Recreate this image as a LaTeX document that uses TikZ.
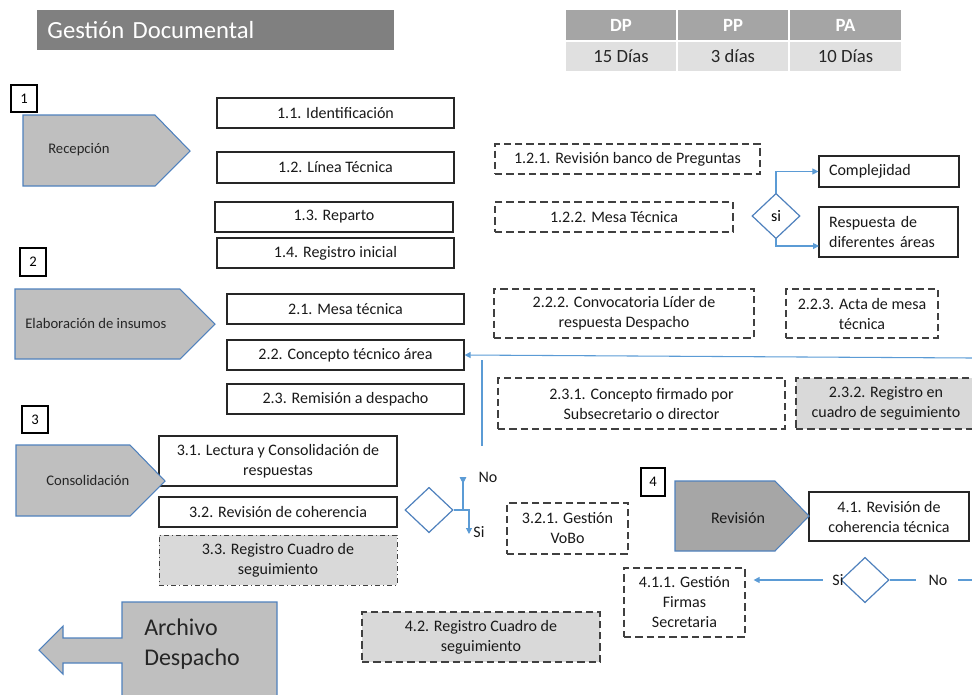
\documentclass[tikz,border=0pt]{standalone}
\usepackage{fontspec}
\setmainfont{Carlito}
\usetikzlibrary{shapes.geometric,arrows.meta}
\definecolor{bord}{HTML}{262626}
\definecolor{dbord}{HTML}{404040}
\definecolor{bl}{HTML}{5B9BD5}
\definecolor{pbord}{HTML}{4F81BD}
\definecolor{pfill}{HTML}{BFBFBF}
\definecolor{rfill}{HTML}{A6A6A6}
\definecolor{gfill}{HTML}{D9D9D9}
\definecolor{titlegray}{HTML}{808080}
\definecolor{thead}{HTML}{A5A5A5}
\definecolor{trow}{HTML}{E0E0E0}
\newcommand\myfs[2]{\fontsize{#1}{#2}\selectfont}
\begin{document}
\begin{tikzpicture}[x=0.75pt,y=-0.75pt,
  cell/.style n args={4}{at={({(#1+#3)/2},{(#2+#4)/2})}, minimum width={(#3-#1)*0.75pt}, minimum height={(#4-#2)*0.75pt}},
  box/.style={draw=bord, line width=0.9pt, fill=white, inner sep=0pt, align=center, font=\myfs{12}{15}, text=black!90},
  dbox/.style={box, draw=dbord, dash pattern=on 5.5pt off 3pt},
  gbox/.style={dbox, fill=gfill},
  ddbox/.style={box, draw=dbord, line width=0.7pt, fill=gfill, dash pattern=on 4pt off 2pt on 1pt off 2pt},
  numbox/.style={draw=black, line width=0.9pt, fill=white, inner sep=0pt, font=\myfs{11}{13}},
  pent/.style={draw=pbord, line width=0.8pt, fill=pfill},
  plabel/.style={inner sep=0pt, font=\myfs{11}{13}, text=black!85},
  bline/.style={draw=bl, line width=0.8pt},
  barrow/.style={bline, -{Triangle[length=4.5pt,width=4.5pt]}},
  dia/.style={diamond, draw=pbord, line width=0.9pt, fill=white, inner sep=0pt, minimum width=36pt, minimum height=34pt, font=\myfs{12}{14}},
  lab/.style={inner sep=0pt, font=\myfs{12}{14}, text=black!90},
  th/.style={draw=white, line width=1.5pt, fill=thead, inner sep=0pt, text=white, font=\bfseries\myfs{14}{16}},
  td/.style={draw=white, line width=1.5pt, fill=trow, inner sep=0pt, text=black!85, font=\myfs{14}{16}},
]
\useasboundingbox (0,0) rectangle (972,694);

% title and table
\node[cell={37}{10}{394}{50}, fill=titlegray, inner sep=0pt, text width=252pt, align=left, text=white, font=\myfs{18.5}{20}] (title) {Gestión Documental};
\node[th, cell={565}{9}{677}{41}] (hdp) {DP};
\node[th, cell={677}{9}{789}{41}] (hpp) {PP};
\node[th, cell={789}{9}{902}{41}] (hpa) {PA};
\node[td, cell={565}{41}{677}{72}] (ddp) {15 Días};
\node[td, cell={677}{41}{789}{72}] (dpp) {3 días};
\node[td, cell={789}{41}{902}{72}] (dpa) {10 Días};

% number boxes
\node[numbox, cell={11}{85}{37}{112}] (n1) {1};
\node[numbox, cell={20}{248}{46}{276}] (n2) {2};
\node[numbox, cell={22}{406}{48}{433}] (n3) {3};
\node[numbox, cell={641}{468}{665}{496}] (n4) {4};

% section 1
\node[box, cell={217}{98}{454}{128}] (b11) {1.1. Identificación};
\node[box, cell={217}{152}{454}{183}] (b12) {1.2. Línea Técnica};
\node[box, cell={215}{202}{453}{232}] (b13) {1.3. Reparto};
\node[box, cell={217}{238}{454}{268}] (b14) {1.4. Registro inicial};
\node[dbox, cell={495}{144}{760}{174}] (b121) {1.2.1. Revisión banco de Preguntas};
\node[dbox, cell={495}{202}{733}{232}] (b122) {1.2.2. Mesa Técnica};
\node[dia] (dsi) at (776,216) {si};
\node[box, cell={819}{156}{959}{187}, text width=90pt, align=left] (cmp) {Complejidad};
\node[box, cell={819}{207}{958}{257}, text width=89pt, align=left] (res) {Respuesta de\\diferentes áreas};
\coordinate (resin) at (819,246);
\draw[barrow] (dsi.north) |- (cmp.west);
\draw[barrow] (dsi.south) |- (resin);

% section 2
\node[box, cell={227}{294}{464}{324}] (b21) {2.1. Mesa técnica};
\node[box, cell={227}{340}{464}{370}] (b22) {2.2. Concepto técnico área};
\node[box, cell={227}{384}{464}{414}] (b23) {2.3. Remisión a despacho};
\node[dbox, cell={494}{289}{754}{338}] (b222) {2.2.2. Convocatoria Líder de\\respuesta Despacho};
\node[dbox, cell={786}{289}{938}{338}] (b223) {2.2.3. Acta de mesa\\técnica};
\node[dbox, cell={498}{378}{785}{429}] (b231) {2.3.1. Concepto firmado por\\Subsecretario o director};
\node[gbox, cell={796}{378}{976}{429}] (b232) {2.3.2. Registro en\\cuadro de seguimiento};
\coordinate (r22) at (973,358);
\draw[barrow] (r22) -- (b22.east);
\coordinate (v1) at (482,360);
\coordinate (v2) at (482,446);
\draw[bline] (v1) -- (v2);

% section 3
\node[box, cell={159}{436}{397}{486}] (b31) {3.1. Lectura y Consolidación de\\respuestas};
\node[box, cell={159}{497}{397}{527}] (b32) {3.2. Revisión de coherencia};
\node[ddbox, cell={159}{535}{397}{585}] (b33) {3.3. Registro Cuadro de\\seguimiento};
\node[dia] (d3) at (429,510) {};
\coordinate (no3) at (463,477);
\coordinate (si3) at (469,534);
\draw[bline, -{Triangle[length=5pt,width=5pt,reversed]}] (d3.east) -| (no3);
\draw[barrow] (d3.east) -| (si3);
\node[lab] (no3l) at (488,477) {No};
\node[lab] (si3l) at (479,532) {Si};
\node[dbox, cell={507}{503}{628}{554}] (b321) {3.2.1. Gestión\\VoBo};

% section 4
\node[box, cell={809}{492}{969}{541}] (b41) {4.1. Revisión de\\coherencia técnica};
\node[dia] (d4) at (865,580) {};
\node[dbox, cell={624}{568}{745}{637}] (b411) {4.1.1. Gestión\\Firmas\\Secretaria};
\node[gbox, cell={362}{612}{600}{662}] (b42) {4.2. Registro Cuadro de\\seguimiento};
\node[lab] (si4) at (838,580) {Si};
\node[lab] (no4) at (938,580) {No};
\coordinate (r4) at (973,580);
\draw[barrow, shorten <=7pt, shorten >=6pt] (si4.west) -- (b411.east |- si4.west);
\draw[bline, shorten >=9pt] (d4.east) -- (no4.west);
\draw[bline, shorten <=8pt] (no4.east) -- (r4);

% process pentagons
\draw[pent] (23,115) -- (155,115) -- (190,151) -- (155,186) -- (23,186) -- cycle;
\node[plabel, anchor=west] (lrec) at (48,150) {Recepción};
\draw[pent] (15,289) -- (180,289) -- (215,324) -- (180,359) -- (15,359) -- cycle;
\node[plabel, anchor=west] (lela) at (25,323) {Elaboración de insumos};
\draw[pent] (16,445) -- (130,445) -- (165,481) -- (130,516) -- (16,516) -- cycle;
\node[plabel, anchor=west] (lcon) at (46,480) {Consolidación};
\draw[pent, fill=rfill] (675,481) -- (775,481) -- (809,516) -- (775,551) -- (675,551) -- cycle;
\node[lab] (lrev) at (738,518) {Revisión};

% archivo despacho
\draw[pent] (122,602) -- (277,602) -- (277,700) -- (122,700) -- (122,663) -- (63,663) -- (63,674) -- (39,650) -- (63,626) -- (63,638) -- (122,638) -- cycle;
\node[inner sep=0pt, anchor=west, align=left, font=\myfs{18}{22}, text=black!85] (larch) at (144,644) {Archivo\\Despacho};
\end{tikzpicture}
\end{document}
